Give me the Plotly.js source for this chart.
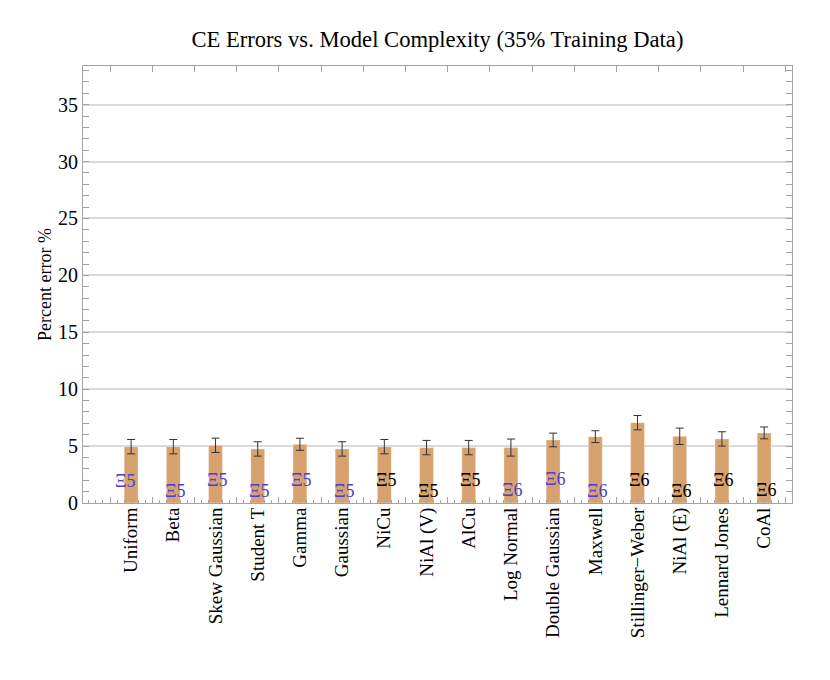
<!DOCTYPE html>
<html>
<head>
<meta charset="utf-8">
<script src="https://cdn.plot.ly/plotly-3.0.1.min.js"></script>
<style>
  html, body { margin: 0; padding: 0; background: #fff; }
  #chart { width: 830px; height: 680px; }
</style>
</head>
<body>
<div id="chart"></div>
<script>
// categories and values
const models = ['Uniform', 'Beta', 'Skew Gaussian', 'Student T', 'Gamma', 'Gaussian',
  'NiCu', 'NiAl (V)', 'AlCu', 'Log Normal', 'Double Gaussian', 'Maxwell',
  'Stillinger\u2212Weber', 'NiAl (E)', 'Lennard Jones', 'CoAl'];
const percentError = [4.95, 4.95, 5.07, 4.75, 5.16, 4.75, 4.95, 4.87, 4.87, 4.87, 5.54, 5.83, 7.06, 5.86, 5.63, 6.16];
const errorSize = [0.63, 0.63, 0.63, 0.63, 0.53, 0.63, 0.63, 0.63, 0.63, 0.75, 0.6, 0.52, 0.63, 0.72, 0.63, 0.52];
// complexity labels (Xi) and the height they sit at
const xiLabels = ['Ξ5', 'Ξ5', 'Ξ5', 'Ξ5', 'Ξ5', 'Ξ5', 'Ξ5', 'Ξ5', 'Ξ5', 'Ξ6', 'Ξ6', 'Ξ6', 'Ξ6', 'Ξ6', 'Ξ6', 'Ξ6'];
const xiHeight = [1.96, 1.08, 2.02, 1.05, 2.0, 1.08, 2.0, 1.08, 2.0, 1.14, 2.14, 1.08, 2.02, 1.08, 2.02, 1.14];
const isDistribution = [true, true, true, true, true, true, false, false, false, true, true, true, false, false, false, false];

const idx = models.map((_, i) => i);
const serif = 'Liberation Serif, Times New Roman, serif';
const frame = '#a3a3a3';

const bars = {
  type: 'bar',
  x: idx,
  y: percentError,
  width: 0.33,
  marker: { color: '#d8a26e', line: { color: 'rgba(255,255,255,0.35)', width: 1 } },
  error_y: { type: 'data', array: errorSize, visible: true, color: '#333', thickness: 1, width: 4 },
  hoverinfo: 'x+y',
  showlegend: false
};

// empty trace so the second x axis (boundary ticks) gets drawn
const tickHolder = { type: 'scatter', x: [], y: [], xaxis: 'x2', hoverinfo: 'skip', showlegend: false };

const labels = idx.map(i => ({
  x: i,
  y: xiHeight[i],
  xref: 'x',
  yref: 'y',
  text: xiLabels[i],
  showarrow: false,
  xshift: i === 0 ? -6 : 2,
  font: { family: serif, size: 18, color: isDistribution[i] ? '#4b3fd6' : '#000' }
}));

const layout = {
  width: 830,
  height: 680,
  margin: { l: 83, r: 38, t: 66, b: 177 },
  paper_bgcolor: '#fff',
  plot_bgcolor: '#fff',
  font: { family: serif, size: 19, color: '#000' },
  title: {
    text: 'CE Errors vs. Model Complexity (35% Training Data)',
    font: { family: serif, size: 22.6, color: '#000' },
    x: 0.527, xanchor: 'center',
    y: 1 - 39 / 680, yanchor: 'middle'
  },
  xaxis: {
    range: [-1.14, 15.66],
    tickmode: 'array',
    tickvals: idx,
    ticktext: models,
    tickangle: -90,
    ticks: '',
    ticklabelstandoff: -4,
    showgrid: false,
    zeroline: false,
    showline: true,
    linecolor: frame,
    linewidth: 1,
    mirror: true,
    tickfont: { family: serif, size: 19, color: '#000' },
    minor: { tickmode: 'linear', tick0: 0.5, dtick: 1 / 6, ticks: 'inside', ticklen: 3, tickcolor: frame, showgrid: false }
  },
  xaxis2: {
    overlaying: 'x',
    matches: 'x',
    anchor: 'y',
    side: 'bottom',
    tickmode: 'linear',
    tick0: 0.5,
    dtick: 1,
    ticks: 'inside',
    ticklen: 6,
    tickcolor: frame,
    showticklabels: false,
    showgrid: false,
    zeroline: false,
    showline: false,
    mirror: 'allticks'
  },
  yaxis: {
    range: [0, 38.4],
    tickmode: 'linear',
    tick0: 0,
    dtick: 5,
    ticks: 'inside',
    ticklen: 6,
    tickcolor: frame,
    showline: true,
    linecolor: frame,
    linewidth: 1,
    mirror: 'allticks',
    showgrid: true,
    gridcolor: '#dadada',
    gridwidth: 2,
    zeroline: false,
    tickfont: { family: serif, size: 20, color: '#000' },
    minor: { dtick: 1, ticks: 'inside', ticklen: 3, tickcolor: frame, showgrid: false },
    title: { text: 'Percent error %', font: { family: serif, size: 18, color: '#000' }, standoff: 1 }
  },
  annotations: labels
};

Plotly.newPlot('chart', [bars, tickHolder], layout, { displayModeBar: false });
</script>
</body>
</html>
